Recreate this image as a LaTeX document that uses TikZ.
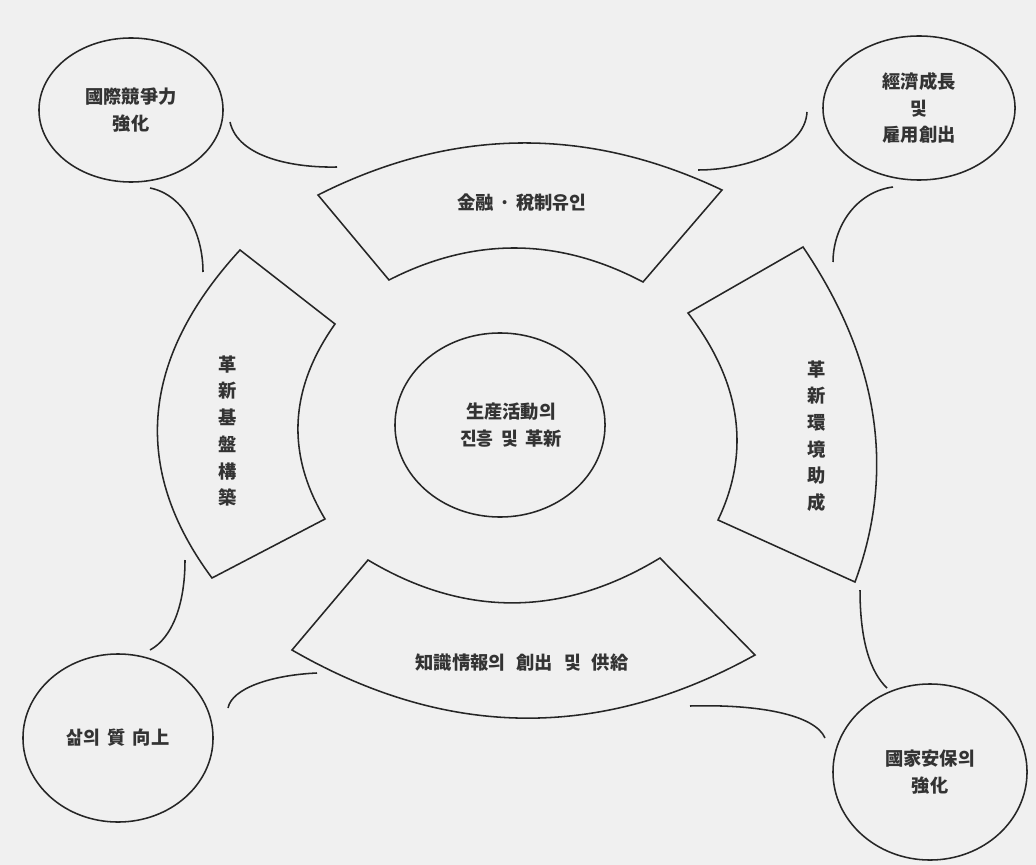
\documentclass[tikz,border=0pt]{standalone}
\usepackage{fontspec}
\newfontfamily\kr{Noto Sans CJK KR}
\usetikzlibrary{shapes.geometric}
\begin{document}
\begin{tikzpicture}[x=0.025cm, y=-0.025cm,
    linea/.style={line width=1.1pt, draw=black!85},
    bola/.style={linea, ellipse, inner sep=0pt, align=center, font=\kr\bfseries\fontsize{13}{19}\selectfont, text=black!80},
    rotulo/.style={align=center, font=\kr\bfseries\fontsize{13}{19}\selectfont, text=black!80}]
    % Fondo
    \fill[black!6] (0,0) rectangle (1036,865);
    \useasboundingbox (0,0) rectangle (1036,865);

    % Centro
    \node[bola, minimum width=5.25cm, minimum height=4.6cm] (prod) at (500,425) {\hspace{1.2em}生産活動의\\\hspace{1.2em}진흥\hspace{0.4em}및\hspace{0.4em}革新};

    % Objetivos
    \node[bola, minimum width=4.6cm, minimum height=3.6cm] (comp) at (131,110) {國際競爭力\\強化};
    \node[bola, minimum width=4.8cm, minimum height=3.6cm] (crec) at (919,108) {經濟成長\\및\\雇用創出};
    \node[bola, minimum width=4.75cm, minimum height=4.2cm] (vida) at (118,738) {삶의\hspace{0.4em}質\hspace{0.4em}向上};
    \node[bola, minimum width=4.85cm, minimum height=4.4cm] (segu) at (930,772) {國家安保의\\強化};

    % Sectores
    \draw[linea] (318,195) .. controls (453,127) and (587,126) .. (722,190)
        -- (643,282) .. controls (558,237) and (473,237) .. (389,280) -- cycle;
    \draw[linea] (240,250) .. controls (140,359) and (131,469) .. (212,578)
        -- (325,519) .. controls (286,454) and (289,389) .. (335,324) -- cycle;
    \draw[linea] (803,247) .. controls (879,359) and (896,471) .. (855,582)
        -- (718,520) .. controls (751,451) and (741,382) .. (688,313) -- cycle;
    \draw[linea] (292,650) .. controls (446,739) and (600,741) .. (755,655)
        -- (660,558) .. controls (563,617) and (465,618) .. (368,560) -- cycle;

    % Rotulos de los sectores
    \node[rotulo] (fin) at (522,203) {金融\hspace{0.3em}·\hspace{0.3em}稅制유인};
    \node[rotulo] (base) at (228,431) {革\\新\\基\\盤\\構\\築};
    \node[rotulo] (amb) at (817,436) {革\\新\\環\\境\\助\\成};
    \node[rotulo] (info) at (522,663) {知識情報의\hspace{0.6em}創出\hspace{0.6em}및\hspace{0.6em}供給};

    % Arcos de enlace
    \coordinate (tl1) at (230,122); \coordinate (tl2) at (337,167);
    \coordinate (tl3) at (150,188); \coordinate (tl4) at (203,272);
    \coordinate (tr1) at (807,112); \coordinate (tr2) at (698,170);
    \coordinate (tr3) at (893,187); \coordinate (tr4) at (833,262);
    \coordinate (bl1) at (185,560); \coordinate (bl2) at (150,650);
    \coordinate (bl3) at (317,673); \coordinate (bl4) at (228,708);
    \coordinate (br1) at (860,590); \coordinate (br2) at (887,688);
    \coordinate (br3) at (690,706); \coordinate (br4) at (825,738);
    \draw[linea] (tl1) .. controls (238,158) and (295,168) .. (tl2);
    \draw[linea] (tl3) .. controls (185,195) and (203,235) .. (tl4);
    \draw[linea] (tr1) .. controls (805,150) and (745,170) .. (tr2);
    \draw[linea] (tr3) .. controls (855,192) and (833,228) .. (tr4);
    \draw[linea] (bl1) .. controls (185,605) and (172,638) .. (bl2);
    \draw[linea] (bl3) .. controls (272,675) and (232,688) .. (bl4);
    \draw[linea] (br1) .. controls (860,640) and (870,672) .. (br2);
    \draw[linea] (br3) .. controls (760,704) and (815,715) .. (br4);
\end{tikzpicture}
\end{document}
